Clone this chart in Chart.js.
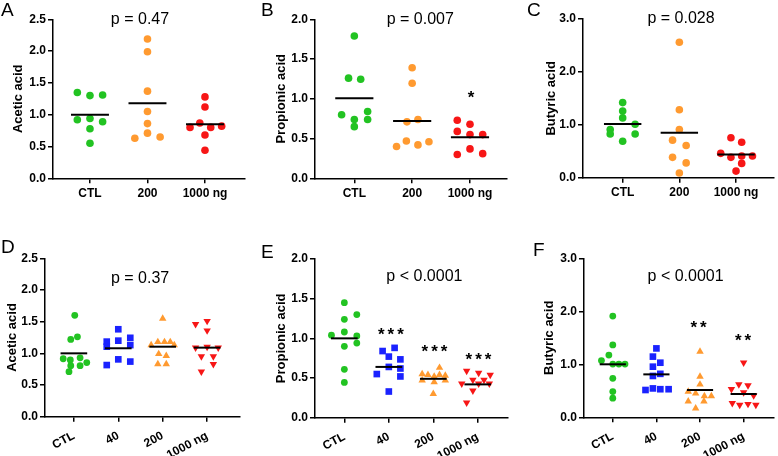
<!DOCTYPE html>
<html>
<head>
<meta charset="utf-8">
<script src="https://cdn.jsdelivr.net/npm/chart.js@4.4.1/dist/chart.umd.min.js"></script>
<style>
  body { margin: 0; background: #fff; }
  #fig { position: relative; width: 778px; height: 456px; overflow: hidden; }
  #fig canvas { position: absolute; }
  .tag { position: absolute; font: 19px 'Liberation Sans', Arial, sans-serif; line-height: 1; color: #000; }
</style>
</head>
<body>
<div id="fig">
  <canvas id="pA" width="260" height="220" style="left:0;top:0"></canvas>
  <canvas id="pB" width="260" height="220" style="left:260px;top:0"></canvas>
  <canvas id="pC" width="258" height="220" style="left:520px;top:0"></canvas>
  <canvas id="pD" width="260" height="236" style="left:0;top:220px"></canvas>
  <canvas id="pE" width="260" height="236" style="left:260px;top:220px"></canvas>
  <canvas id="pF" width="258" height="236" style="left:520px;top:220px"></canvas>
  <div class="tag" style="left:1px;top:0">A</div>
  <div class="tag" style="left:261px;top:0">B</div>
  <div class="tag" style="left:527px;top:0">C</div>
  <div class="tag" style="left:1px;top:237px">D</div>
  <div class="tag" style="left:261px;top:242px">E</div>
  <div class="tag" style="left:533px;top:240px">F</div>
</div>
<script>
const TOP_GROUPS = ['CTL', '200', '1000 ng'];
const BOTTOM_GROUPS = ['CTL', '40', '200', '1000 ng'];

// A - acetic acid (top row); *_DX = horizontal scatter inside the group
const A_CTL = [1.35, 1.30, 1.31, 0.92, 0.94, 0.89, 0.78, 0.55];
const A_CTL_DX = [-0.22, 0, 0.22, -0.22, 0, 0.22, 0, 0];
const A_200 = [2.19, 1.99, 1.37, 1.05, 0.86, 0.71, 0.63, 0.65];
const A_200_DX = [0, 0, 0, 0, 0, 0, -0.22, 0.22];
const A_1000 = [1.28, 1.12, 0.87, 0.80, 0.80, 0.82, 0.68, 0.44];
const A_1000_DX = [0, 0, -0.09, -0.26, 0.10, 0.29, 0, 0];
const A_MEAN = [1.00, 1.18, 0.85];

// B - propionic acid
const B_CTL = [1.79, 1.26, 1.245, 0.80, 0.74, 0.84, 0.74, 0.65];
const B_CTL_DX = [0, -0.1, 0.11, -0.22, 0, 0.23, 0.23, 0];
const B_200 = [1.39, 1.195, 0.71, 0.74, 0.40, 0.47, 0.42, 0.46];
const B_200_DX = [0, 0, -0.09, 0.1, -0.27, -0.1, 0.1, 0.29];
const B_1000 = [0.73, 0.68, 0.59, 0.55, 0.55, 0.30, 0.37, 0.31];
const B_1000_DX = [-0.22, 0, -0.22, 0, 0.22, -0.22, 0, 0.22];
const B_MEAN = [1.006, 0.72, 0.515];

// C - butyric acid
const C_CTL = [1.42, 1.26, 1.13, 0.91, 1.01, 0.825, 0.825, 0.69];
const C_CTL_DX = [0, 0, 0, -0.22, 0.22, -0.22, 0.22, 0];
const C_200 = [2.56, 1.285, 0.91, 0.71, 0.61, 0.385, 0.28, 0.09];
const C_200_DX = [0, 0, 0, -0.12, 0.12, -0.12, 0.12, 0];
const C_1000 = [0.755, 0.67, 0.46, 0.385, 0.41, 0.41, 0.27, 0.125];
const C_1000_DX = [-0.09, 0.1, -0.27, -0.09, 0.1, 0.29, 0.1, 0];
const C_MEAN = [1.015, 0.85, 0.44];

// D - acetic acid (bottom row)
const D_CTL = [1.60, 1.22, 1.26, 0.915, 0.895, 0.93, 0.855, 0.805, 0.805, 0.71];
const D_CTL_DX = [0.02, -0.07, 0.08, -0.24, -0.08, 0.14, 0.29, -0.07, 0.14, -0.11];
const D_40 = [1.38, 1.185, 1.20, 1.245, 1.105, 1.13, 0.905, 0.87, 0.815];
const D_40_DX = [0, -0.26, 0, 0.27, -0.26, 0.27, 0, 0.27, -0.26];
const D_200 = [1.55, 1.13, 1.18, 1.18, 1.18, 1.13, 0.99, 0.96, 0.83, 0.83];
const D_200_DX = [0, -0.26, -0.11, 0.04, 0.17, 0.26, -0.09, 0.08, -0.11, 0.08];
const D_1000 = [1.46, 1.51, 1.36, 1.09, 1.10, 1.09, 0.95, 0.95, 0.83, 0.71];
const D_1000_DX = [-0.26, 0, 0, -0.26, 0, 0.25, -0.13, 0.14, 0.14, -0.13];
const D_MEAN = [1.0, 1.08, 1.105, 1.09];

// E - propionic acid
const E_CTL = [1.45, 1.30, 1.24, 1.04, 1.08, 1.03, 0.90, 0.94, 0.61, 0.445];
const E_CTL_DX = [0, 0.28, 0, -0.29, 0, 0.28, 0, 0.28, 0, 0];
const E_40 = [0.88, 0.84, 0.77, 0.735, 0.64, 0.62, 0.55, 0.52, 0.33];
const E_40_DX = [0.13, -0.14, 0, 0.26, 0, 0.26, -0.27, 0.26, 0];
const E_200 = [0.63, 0.55, 0.54, 0.52, 0.54, 0.53, 0.47, 0.45, 0.47, 0.30];
const E_200_DX = [0.14, -0.25, -0.12, 0.02, 0.14, 0.27, -0.25, 0.02, 0.27, 0];
const E_1000 = [0.59, 0.565, 0.54, 0.475, 0.475, 0.43, 0.43, 0.43, 0.34, 0.19];
const E_1000_DX = [-0.25, 0.02, 0.28, -0.11, 0.14, -0.36, 0.02, 0.26, -0.11, -0.25];
const E_MEAN = [1.0, 0.64, 0.49, 0.42];

// F - butyric acid
const F_CTL = [1.91, 1.365, 1.07, 1.175, 1.005, 1.005, 1.005, 0.735, 0.485, 0.36];
const F_CTL_DX = [0, 0, -0.26, -0.09, 0, 0.14, 0.28, 0, 0, 0];
const F_40 = [1.30, 1.145, 1.03, 0.955, 0.82, 0.78, 0.515, 0.545, 0.53, 0.53];
const F_40_DX = [0, -0.08, 0.09, -0.08, 0.09, -0.08, -0.25, -0.08, 0.09, 0.28];
const F_200 = [1.24, 0.77, 0.62, 0.485, 0.45, 0.40, 0.40, 0.30, 0.30, 0.17];
const F_200_DX = [0, 0, 0, -0.27, -0.1, 0.26, 0.1, -0.27, 0.09, -0.1];
const F_1000 = [1.03, 0.62, 0.60, 0.53, 0.47, 0.41, 0.265, 0.235, 0.25, 0.235];
const F_1000_DX = [0, -0.11, 0.1, -0.28, 0, 0.23, -0.26, -0.09, 0.1, 0.28];
const F_MEAN = [1.0, 0.81, 0.515, 0.44];

const P_TEXT = ['p = 0.47', 'p = 0.007', 'p = 0.028', 'p = 0.37', 'p < 0.0001', 'p < 0.0001'];

const GREEN = '#22c322', ORANGE = '#ff9a30', RED = '#f71616', BLUE = '#1a22ff';

Chart.defaults.font.family = "'Liberation Sans', Arial, sans-serif";
Chart.defaults.color = '#000';

// p values and significance stars, placed in data units
const panelText = {
  id: 'panelText',
  afterDatasetsDraw(chart, args, opts) {
    const { ctx, scales: { x, y } } = chart;
    ctx.save();
    ctx.fillStyle = '#000';
    ctx.textAlign = 'center';
    ctx.textBaseline = 'middle';
    (opts.items || []).forEach(it => {
      ctx.font = it.font;
      ctx.letterSpacing = it.spacing || '0px';
      ctx.fillText(it.text, x.getPixelForValue(it.x), y.getPixelForValue(it.y));
    });
    ctx.restore();
  }
};

function dots(cat, vals, dx, color, style, r, rot) {
  return {
    data: vals.map((v, i) => ({ x: cat + dx[i], y: v })),
    backgroundColor: color, borderColor: color, borderWidth: 0,
    pointStyle: style, pointRadius: r, pointRotation: rot || 0,
    clip: false, order: 1
  };
}

function meanLine(cat, m, half) {
  return {
    type: 'line',
    data: [{ x: cat - half, y: m }, { x: cat + half, y: m }],
    borderColor: '#000', borderWidth: 2, pointRadius: 0, clip: false, order: 0
  };
}

function drawPanel(id, o) {
  const cv = document.getElementById(id);
  const W = cv.width, H = cv.height;
  const datasets = [];
  o.groups.forEach((g, i) => {
    datasets.push(dots(i + 1, g[0], g[1], g[2], g[3], g[4], g[5]));
    datasets.push(meanLine(i + 1, o.means[i], o.half));
  });
  const axisGrid = { drawOnChartArea: false, color: '#000', lineWidth: 1.5, tickLength: 5 };
  const axisBorder = { color: '#000', width: 1.5 };
  const tickFont = { size: 12, weight: 'bold' };

  new Chart(cv, {
    type: 'scatter',
    data: { datasets },
    options: {
      responsive: false,
      animation: false,
      events: [],
      layout: { padding: { left: 0, top: o.area[1], right: W - o.area[2], bottom: 0 } },
      plugins: {
        legend: { display: false },
        tooltip: { enabled: false },
        panelText: { items: o.texts }
      },
      scales: {
        x: {
          type: 'linear', min: o.xMin, max: o.xMax,
          afterFit: s => { s.height = H - o.area[3]; },
          afterBuildTicks: s => { s.ticks = o.labels.map((_, i) => ({ value: i + 1 })); },
          grid: axisGrid, border: axisBorder,
          ticks: {
            callback: v => o.labels[v - 1], autoSkip: false,
            minRotation: o.rot, maxRotation: o.rot, padding: o.rot ? 7 : 3, font: tickFont
          }
        },
        y: {
          min: 0, max: o.yMax,
          afterFit: s => { s.width = o.area[0]; },
          grid: axisGrid, border: axisBorder,
          ticks: { stepSize: o.step, callback: v => v.toFixed(1), padding: 2, font: tickFont },
          title: {
            display: true, text: o.yTitle, padding: { top: o.titlePad, bottom: 0 },
            font: { size: 13, weight: 'bold' }
          }
        }
      }
    },
    plugins: [panelText]
  });
}

const P_FONT = "16px 'Liberation Sans', Arial, sans-serif";
const STAR_FONT = "bold 17px 'Liberation Sans', Arial, sans-serif";

drawPanel('pA', {
  labels: TOP_GROUPS, yTitle: 'Acetic acid', yMax: 2.5, step: 0.5,
  area: [53, 19.3, 245, 178.3], xMin: 0.357, xMax: 3.696, rot: 0, half: 0.33, titlePad: 10.5,
  groups: [[A_CTL, A_CTL_DX, GREEN, 'circle', 3.8], [A_200, A_200_DX, ORANGE, 'circle', 3.8], [A_1000, A_1000_DX, RED, 'circle', 3.8]],
  means: A_MEAN,
  texts: [{ text: P_TEXT[0], x: 1.87, y: 2.5, font: P_FONT }]
});

drawPanel('pB', {
  labels: TOP_GROUPS, yTitle: 'Propionic acid', yMax: 2.0, step: 0.5,
  area: [55, 19.3, 247, 178.3], xMin: 0.32, xMax: 3.64, rot: 0, half: 0.33, titlePad: 13.5,
  groups: [[B_CTL, B_CTL_DX, GREEN, 'circle', 3.8], [B_200, B_200_DX, ORANGE, 'circle', 3.8], [B_1000, B_1000_DX, RED, 'circle', 3.8]],
  means: B_MEAN,
  texts: [{ text: P_TEXT[1], x: 2.14, y: 2.0, font: P_FONT }, { text: '*', x: 3.02, y: 1.01, font: STAR_FONT }]
});

drawPanel('pC', {
  labels: TOP_GROUPS, yTitle: 'Butyric acid', yMax: 3.0, step: 1.0,
  area: [63, 19, 257, 177.7], xMin: 0.30, xMax: 3.67, rot: 0, half: 0.33, titlePad: 23.5,
  groups: [[C_CTL, C_CTL_DX, GREEN, 'circle', 3.8], [C_200, C_200_DX, ORANGE, 'circle', 3.8], [C_1000, C_1000_DX, RED, 'circle', 3.8]],
  means: C_MEAN,
  texts: [{ text: P_TEXT[2], x: 2.03, y: 3.0, font: P_FONT }]
});

drawPanel('pD', {
  labels: BOTTOM_GROUPS, yTitle: 'Acetic acid', yMax: 2.5, step: 0.5,
  area: [45, 38.3, 240, 196.7], xMin: 0.35, xMax: 4.74, rot: 28, half: 0.3, titlePad: 4.5,
  groups: [[D_CTL, D_CTL_DX, GREEN, 'circle', 3.4], [D_40, D_40_DX, BLUE, 'rect', 4.7],
           [D_200, D_200_DX, ORANGE, 'triangle', 4.3], [D_1000, D_1000_DX, RED, 'triangle', 4.3, 180]],
  means: D_MEAN,
  texts: [{ text: P_TEXT[3], x: 2.49, y: 2.18, font: P_FONT }]
});

drawPanel('pE', {
  labels: BOTTOM_GROUPS, yTitle: 'Propionic acid', yMax: 2.0, step: 0.5,
  area: [55, 39, 248, 197.7], xMin: 0.34, xMax: 4.68, rot: 28, half: 0.3, titlePad: 13.5,
  groups: [[E_CTL, E_CTL_DX, GREEN, 'circle', 3.4], [E_40, E_40_DX, BLUE, 'rect', 4.7],
           [E_200, E_200_DX, ORANGE, 'triangle', 4.3], [E_1000, E_1000_DX, RED, 'triangle', 4.3, 180]],
  means: E_MEAN,
  texts: [{ text: P_TEXT[4], x: 2.8, y: 1.777, font: P_FONT },
          { text: '***', x: 2.08, y: 1.04, font: STAR_FONT, spacing: '3px' },
          { text: '***', x: 3.06, y: 0.82, font: STAR_FONT, spacing: '3px' },
          { text: '***', x: 4.05, y: 0.725, font: STAR_FONT, spacing: '3px' }]
});

drawPanel('pF', {
  labels: BOTTOM_GROUPS, yTitle: 'Butyric acid', yMax: 3.0, step: 1.0,
  area: [64, 38.3, 257, 197.3], xMin: 0.34, xMax: 4.68, rot: 28, half: 0.3, titlePad: 21.5,
  groups: [[F_CTL, F_CTL_DX, GREEN, 'circle', 3.4], [F_40, F_40_DX, BLUE, 'rect', 4.7],
           [F_200, F_200_DX, ORANGE, 'triangle', 4.3], [F_1000, F_1000_DX, RED, 'triangle', 4.3, 180]],
  means: F_MEAN,
  texts: [{ text: P_TEXT[5], x: 2.67, y: 2.65, font: P_FONT },
          { text: '**', x: 3.0, y: 1.67, font: STAR_FONT, spacing: '3px' },
          { text: '**', x: 4.02, y: 1.44, font: STAR_FONT, spacing: '3px' }]
});
</script>
</body>
</html>
